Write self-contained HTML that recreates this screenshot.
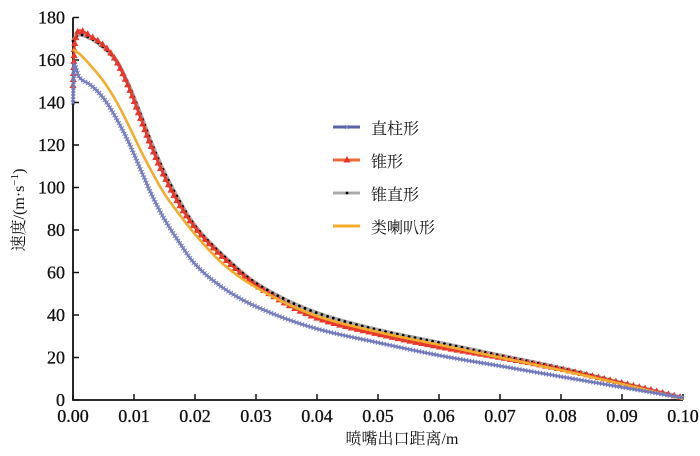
<!DOCTYPE html>
<html><head><meta charset="utf-8"><style>
body{margin:0;background:#fff}
svg{display:block}
.t{font-family:"Liberation Serif",serif;font-size:18px;fill:#111;stroke:#111;stroke-width:0.3}
.c{font-family:"Liberation Serif","Noto Serif CJK SC",serif;font-size:16px;fill:#111}
</style></head><body>
<svg id="chart" width="700" height="456" viewBox="0 0 700 456">
<g id="axes"></g>
<g id="series"></g>
<g id="legend"></g>
<text class="c" x="24" y="210" transform="rotate(-90 24 210)" text-anchor="middle">速度/(m·s<tspan dy="-6" font-size="11">−1</tspan><tspan dy="6">)</tspan></text>
<text class="c" x="402" y="444" text-anchor="middle">喷嘴出口距离/m</text>
</svg>
<script>
const xTicks=[0,0.01,0.02,0.03,0.04,0.05,0.06,0.07,0.08,0.09,0.10];
const xTickLabels=["0.00","0.01","0.02","0.03","0.04","0.05","0.06","0.07","0.08","0.09","0.10"];
const yTicks=[0,20,40,60,80,100,120,140,160,180];
const seriesNames=["直柱形","锥形","锥直形","类喇叭形"];
const xBlue=[0,0.0002,0.001,0.003,0.005,0.007,0.009,0.011,0.013,0.015,0.017,0.02,0.025,0.03,0.04,0.05,0.06,0.07,0.08,0.09,0.1];
const yBlue=[140,158,152,148,142,133,122,109,96,85,76,64,52,44,33.5,27,21,16,11,6,1];
const xRed=[0,0.0003,0.001,0.003,0.005,0.007,0.009,0.011,0.013,0.015,0.017,0.02,0.025,0.03,0.04,0.05,0.06,0.07,0.08,0.09,0.1];
const yRed=[148,168,174,171,167,160,148,133,118,105,94,81,66,54,38.5,31,25,20,14.5,8,1];
const xGrey=[0,0.001,0.003,0.005,0.007,0.009,0.011,0.013,0.015,0.017,0.02,0.025,0.03,0.04,0.05,0.06,0.07,0.08,0.09,0.1];
const yGrey=[169,172,170,166,160,149,135,120,107,96,82,67,55,41,33,27,21,15,8,1];
const xYellow=[0,0.001,0.003,0.005,0.007,0.009,0.011,0.013,0.015,0.017,0.02,0.025,0.03,0.04,0.05,0.06,0.07,0.08,0.09,0.1];
const yYellow=[165,163,157,150,141,130,118,107,97,89,78,63,53,39.5,32,26,20,14,7.5,0.5];

const X=v=>73+v/0.1*610, Y=v=>400-v/180*382.5;
const NS="http://www.w3.org/2000/svg";
function mk(tag,attrs,parent){const e=document.createElementNS(NS,tag);for(const k in attrs)e.setAttribute(k,attrs[k]);parent.appendChild(e);return e;}
const axes=document.getElementById('axes');
let a=mk('path',{d:`M${X(0)} ${Y(180)} V${Y(0)} H${X(0.1)}`,fill:'none',stroke:'#111','stroke-width':1.8},axes);


xTicks.forEach((v,i)=>{
 let t=mk('line',{x1:X(v),x2:X(v),y1:Y(0),y2:Y(0)-6,stroke:'#111','stroke-width':1.5},axes);
 
 
 let l=mk('text',{x:X(v),y:422,'text-anchor':'middle',class:'t'},axes);l.textContent=xTickLabels[i];
 
 
});
yTicks.forEach(v=>{
 let t=mk('line',{x1:X(0),x2:X(0)+6,y1:Y(v),y2:Y(v),stroke:'#111','stroke-width':1.5},axes);
 
 
 let l=mk('text',{x:65,y:Y(v)+6,'text-anchor':'end',class:'t'},axes);l.textContent=v;
 
 
});
function pathD(xs,ys){
 const n=xs.length,h=[],dl=[],m=new Array(n);
 for(let i=0;i<n-1;i++){h[i]=xs[i+1]-xs[i];dl[i]=(ys[i+1]-ys[i])/h[i];}
 m[0]=dl[0];m[n-1]=dl[n-2];
 for(let i=1;i<n-1;i++){ if(dl[i-1]*dl[i]<=0)m[i]=0; else {const w1=2*h[i]+h[i-1],w2=h[i]+2*h[i-1];m[i]=(w1+w2)/(w1/dl[i-1]+w2/dl[i]);}}
 let d=`M${X(xs[0])} ${Y(ys[0])}`;
 for(let i=0;i<n-1;i++){
  const steps=Math.max(2,Math.ceil((X(xs[i+1])-X(xs[i]))/2)+Math.ceil(Math.abs(Y(ys[i+1])-Y(ys[i]))/2));
  for(let s=1;s<=steps;s++){
   const t=s/steps,t2=t*t,t3=t2*t;
   const y=(2*t3-3*t2+1)*ys[i]+(t3-2*t2+t)*h[i]*m[i]+(-2*t3+3*t2)*ys[i+1]+(t3-t2)*h[i]*m[i+1];
   d+=` L${X(xs[i]+t*h[i]).toFixed(2)} ${Y(y).toFixed(2)}`;
  }
 }
 return d;
}
const ser=document.getElementById('series');
function marker(type,x,y,g,col){
 if(type==='x'){mk('path',{d:`M${x-2} ${y-2}L${x+2} ${y+2}M${x+2} ${y-2}L${x-2} ${y+2}`,stroke:col,'stroke-width':1},g);}
 else if(type==='tri'){mk('path',{d:`M${x} ${y-4}L${x+3.5} ${y+2.5}L${x-3.5} ${y+2.5}Z`,fill:'#e8362a'},g);}
 else if(type==='dot'){mk('circle',{cx:x,cy:y,r:1.4,fill:'#000'},g);}
}
const defs=[
 {xs:xGrey,ys:yGrey,col:'#a9a9a9',w:4,m:'dot',step:6,name:'series-cone-straight'},
 {xs:xRed,ys:yRed,col:'#e8452e',w:2.2,m:'tri',step:6,name:'series-cone'},
 {xs:xYellow,ys:yYellow,col:'#f4ac2c',w:2.6,m:null,step:6,name:'series-horn'},
 {xs:xBlue,ys:yBlue,col:'#5b63a8',w:2.4,m:'x',step:3,name:'series-straight-cylinder'}
];
defs.forEach(s=>{
 const g=mk('g',{},ser);
 
 
 const p=mk('path',{d:pathD(s.xs,s.ys),fill:'none',stroke:s.col,'stroke-width':s.w,'stroke-linejoin':'round'},g);
 
 
 if(s.m){const L=p.getTotalLength();for(let l=0;l<L;l+=s.step){const q=p.getPointAtLength(l);marker(s.m,q.x,q.y,g,'#7a82c4');}}
});
const leg=document.getElementById('legend');
const legCols=['#5b63a8','#e86a3a','#a9a9a9','#f4ac2c'];
const legM=['x','tri','dot',null];
seriesNames.forEach((n,i)=>{
 const y=127+i*33;
 const g=mk('g',{},leg);
 
 
 mk('line',{x1:333,x2:360,y1:y,y2:y,stroke:legCols[i],'stroke-width':3},g);
 if(legM[i])marker(legM[i],347,y,g,'#7a82c4');
 const t=mk('text',{x:371,y:y+7,class:'c'},g);t.textContent=n;
 t.setAttribute('font-size','18');
});
</script>
</body></html>
